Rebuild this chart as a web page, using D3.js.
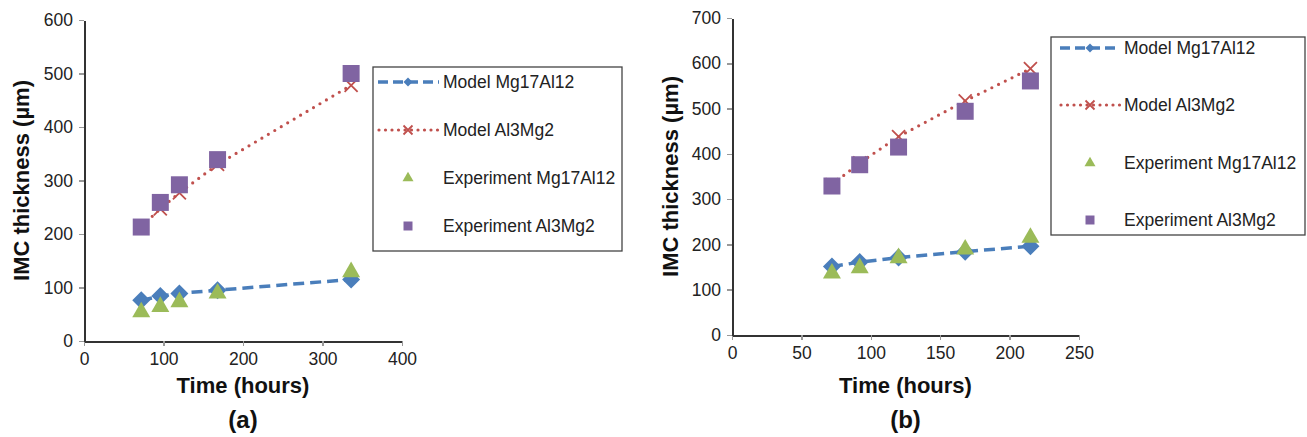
<!DOCTYPE html>
<meta charset="utf-8">
<style>
body { margin: 0; background: #fff; }
svg { display: block; }
.axis path, .axis line { fill: none; shape-rendering: crispEdges; }
.axis path { stroke: #333; stroke-width: 2; }
.axis line { stroke: #999; stroke-width: 1.5; }
.axis text { font: 17.5px "Liberation Sans", Arial, sans-serif; fill: #222; }
.title { font: bold 22px "Liberation Sans", Arial, sans-serif; fill: #111; text-anchor: middle; }
.panel { font: bold 24px "Liberation Sans", Arial, sans-serif; fill: #111; text-anchor: middle; }
.legend text { font: 17.5px "Liberation Sans", Arial, sans-serif; fill: #222; }
</style>
<svg width="1307" height="437"></svg>
<script src="https://d3js.org/d3.v7.min.js"></script>
<script>

var seriesNames = ["Model Mg17Al12", "Model Al3Mg2", "Experiment Mg17Al12", "Experiment Al3Mg2"];

// panel (a)
var timeA = [72, 96, 120, 168, 336];
var modelMgA = [76, 84, 89, 95, 115];
var modelAlA = [214, 247, 277, 330, 478];
var expMgA = [54, 64, 73, 89, 129];
var expAlA = [213, 259, 292, 339, 500];
var xTicksA = [0, 100, 200, 300, 400];
var yTicksA = [0, 100, 200, 300, 400, 500, 600];

// panel (b)
var timeB = [72, 92, 120, 168, 215];
var modelMgB = [151, 161, 171, 184, 196];
var modelAlB = [332, 380, 438, 517, 588];
var expMgB = [136, 148, 170, 189, 215];
var expAlB = [329, 376, 415, 494, 561];
var xTicksB = [0, 50, 100, 150, 200, 250];
var yTicksB = [0, 100, 200, 300, 400, 500, 600, 700];

var blue = "#4a7ebb", red = "#c0504d", green = "#9bbb59", purple = "#8064a2";

var svg = d3.select("svg");

function marker(sel, kind, s) {
  // s = overall width of the marker in px
  if (kind == "diamond") {
    sel.append("path")
        .attr("d", d3.symbol(d3.symbolSquare, s * s / 2)())
        .attr("transform", "rotate(45)")
        .attr("fill", blue);
  } else if (kind == "x") {
    var h = s / 2;
    sel.append("path")
        .attr("d", "M" + (-h) + "," + (-h) + "L" + h + "," + h + "M" + (-h) + "," + h + "L" + h + "," + (-h))
        .attr("stroke", red).attr("stroke-width", 1.8).attr("fill", "none");
  } else if (kind == "triangle") {
    sel.append("path")
        .attr("d", d3.symbol(d3.symbolTriangle, 0.433 * s * s)())
        .attr("fill", green);
  } else {
    sel.append("path")
        .attr("d", d3.symbol(d3.symbolSquare, s * s)())
        .attr("fill", purple);
  }
}

function panel(p) {
  var x = d3.scaleLinear().domain([p.xTicks[0], p.xTicks[p.xTicks.length - 1]]).range(p.xRange);
  var y = d3.scaleLinear().domain([p.yTicks[0], p.yTicks[p.yTicks.length - 1]]).range(p.yRange);

  svg.append("g")
      .attr("class", "axis")
      .attr("transform", "translate(0," + p.yRange[0] + ")")
      .call(d3.axisBottom(x).tickValues(p.xTicks).tickSize(5).tickSizeOuter(0).tickPadding(7));

  svg.append("g")
      .attr("class", "axis")
      .attr("transform", "translate(" + p.xRange[0] + ",0)")
      .call(d3.axisLeft(y).tickValues(p.yTicks).tickSize(5).tickSizeOuter(0).tickPadding(6));

  var data = p.time.map(function(t, i) {
    return {t: t, mm: p.modelMg[i], ma: p.modelAl[i], em: p.expMg[i], ea: p.expAl[i]};
  });

  var g = svg.append("g");

  g.append("path")
      .datum(data)
      .attr("fill", "none").attr("stroke", blue).attr("stroke-width", 3.5)
      .attr("stroke-dasharray", "11,6")
      .attr("d", d3.line().x(function(d) { return x(d.t); }).y(function(d) { return y(d.mm); }));

  g.selectAll(".dm").data(data).enter().append("g")
      .attr("transform", function(d) { return "translate(" + x(d.t) + "," + y(d.mm) + ")"; })
      .call(marker, "diamond", 18);

  g.append("path")
      .datum(data)
      .attr("fill", "none").attr("stroke", red).attr("stroke-width", 3.2)
      .attr("stroke-linecap", "round").attr("stroke-dasharray", "0,7.5")
      .attr("d", d3.line().x(function(d) { return x(d.t); }).y(function(d) { return y(d.ma); }));

  g.selectAll(".xm").data(data).enter().append("g")
      .attr("transform", function(d) { return "translate(" + x(d.t) + "," + y(d.ma) + ")"; })
      .call(marker, "x", 13);

  g.selectAll(".tm").data(data).enter().append("g")
      .attr("transform", function(d) { return "translate(" + x(d.t) + "," + y(d.em) + ")"; })
      .call(marker, "triangle", 18);

  g.selectAll(".sm").data(data).enter().append("g")
      .attr("transform", function(d) { return "translate(" + x(d.t) + "," + y(d.ea) + ")"; })
      .call(marker, "square", 17);

  // axis titles
  svg.append("text").attr("class", "title")
      .attr("transform", "translate(" + p.yTitleX + "," + (p.yRange[0] + p.yRange[1]) / 2 + ") rotate(-90)")
      .attr("dy", "0.35em")
      .text("IMC thickness (µm)");

  svg.append("text").attr("class", "title")
      .attr("x", (p.xRange[0] + p.xRange[1]) / 2).attr("y", 393)
      .text("Time (hours)");

  svg.append("text").attr("class", "panel")
      .attr("x", (p.xRange[0] + p.xRange[1]) / 2).attr("y", 428)
      .text(p.label);

  // legend
  var L = p.legend;
  var lg = svg.append("g").attr("class", "legend");
  lg.append("rect")
      .attr("x", L.x0).attr("y", L.y0).attr("width", L.x1 - L.x0).attr("height", L.y1 - L.y0)
      .attr("fill", "#fff").attr("stroke", "#444").attr("stroke-width", 1.3);

  var kinds = ["diamond", "x", "triangle", "square"];
  seriesNames.forEach(function(name, i) {
    var ry = L.rows[i];
    if (i == 0) {
      lg.append("line").attr("x1", L.lineX[0]).attr("x2", L.lineX[1]).attr("y1", ry).attr("y2", ry)
          .attr("stroke", blue).attr("stroke-width", 3.5).attr("stroke-dasharray", "10,5");
    } else if (i == 1) {
      lg.append("line").attr("x1", L.lineX[0] + 1).attr("x2", L.lineX[1]).attr("y1", ry).attr("y2", ry)
          .attr("stroke", red).attr("stroke-width", 3.2).attr("stroke-linecap", "round")
          .attr("stroke-dasharray", "0,6.5");
    }
    lg.append("g")
        .attr("transform", "translate(" + L.markX + "," + ry + ")")
        .call(marker, kinds[i], i < 2 ? 9 : (i == 2 ? 11 : 9));
    lg.append("text")
        .attr("x", L.textX).attr("y", ry).attr("dy", "0.35em")
        .text(name);
  });
}

panel({
  time: timeA, modelMg: modelMgA, modelAl: modelAlA, expMg: expMgA, expAl: expAlA,
  xTicks: xTicksA, yTicks: yTicksA,
  xRange: [84, 402], yRange: [341, 20],
  yTitleX: 21, label: "(a)",
  legend: {x0: 373, x1: 622, y0: 67, y1: 251, rows: [82, 130, 178, 226], lineX: [378, 439], markX: 408, textX: 443}
});

panel({
  time: timeB, modelMg: modelMgB, modelAl: modelAlB, expMg: expMgB, expAl: expAlB,
  xTicks: xTicksB, yTicks: yTicksB,
  xRange: [732, 1079], yRange: [335, 18],
  yTitleX: 670, label: "(b)",
  legend: {x0: 1051, x1: 1305, y0: 37, y1: 235, rows: [48, 105, 163, 220], lineX: [1060, 1120], markX: 1090, textX: 1124}
});

</script>
